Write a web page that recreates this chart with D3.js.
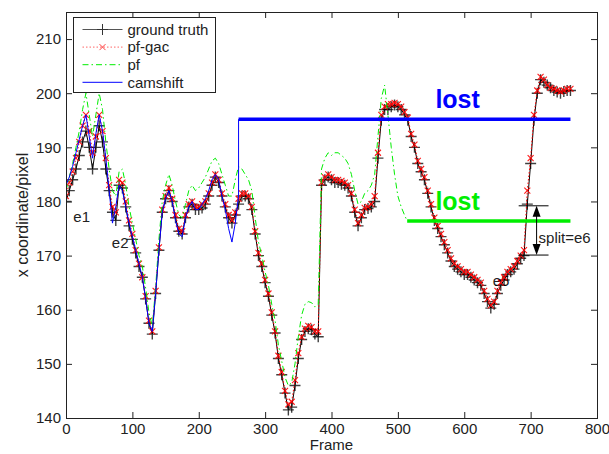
<!DOCTYPE html>
<html>
<head>
<meta charset="utf-8">
<script src="https://cdn.jsdelivr.net/npm/d3@7"></script>
<style>
  body { margin: 0; background: #fff; }
  svg { font-family: "Liberation Sans", Arial, sans-serif; }
</style>
</head>
<body>
<script>
// x coordinate of the tracked target, one value every 5 frames
const frameStep = 5

const groundTruth = [
  180, 182, 184, 186, 188.5, 191, 193, 190, 186, 190, 194, 191, 186, 182, 178, 176.5,
  183, 182.5, 179, 175.5, 173, 170.5, 168, 166, 162, 157.5, 155.5, 163, 171, 178, 180.5, 182,
  180, 177, 174.5, 174, 177, 179, 179.5, 178.5, 178.5, 178.8, 179.5, 181, 183, 184.5, 183.5, 181,
  179, 177, 176, 177.5, 179.5, 181, 181, 180.5, 178.5, 174, 170, 168, 165, 162.5, 159, 155.7,
  151, 148, 144.6, 141.5, 142, 146, 151, 154.5, 156, 156.5, 156.3, 155.5, 155, 183, 184, 184.5,
  184, 183.5, 183.5, 183.2, 183, 182.5, 181, 178, 175.5, 177, 178.5, 178.7, 179, 180, 188, 195,
  197, 197, 197.5, 197.8, 197.5, 197, 196, 195, 192, 190, 187, 185.5, 184, 181.5, 179, 176.5,
  175, 173.5, 172, 170.5, 169, 168, 167.5, 167, 166.5, 166.5, 166, 165.5, 165, 164.5, 163, 161.5,
  160.3, 161, 163, 164.5, 165.5, 166.5, 167, 167.5, 168.5, 169.5, 170, 179.5, 187, 195, 200, 202.5,
  202, 201.5, 201, 200.5, 200.2, 200, 200.3, 200.5, 200.5
]

const pfGac = [
  181, 183.5, 185.5, 188, 191, 194, 196, 193, 189, 192, 196, 193, 188, 183, 179, 178,
  184, 183.5, 180, 176.5, 174, 171, 168.5, 166, 162.5, 158, 156, 163.5, 171.5, 178.5, 181, 182.5,
  180.5, 177.5, 175, 174.5, 177.5, 179.5, 180, 179, 179, 179.5, 180, 181.5, 183.5, 185, 184, 181.5,
  179.5, 177.5, 176.5, 178, 180.5, 181.5, 181.5, 181, 179, 174.5, 170.5, 168.5, 165.5, 163, 159.5, 156,
  151.5, 148.5, 145, 142.5, 143, 147, 152, 155, 156.5, 157, 156.8, 156, 156, 183.5, 184.5, 185,
  184.5, 184, 184, 183.8, 183.5, 183, 181.5, 178.5, 176, 177.5, 178.8, 179, 179.5, 181, 189, 196,
  197.5, 198, 198, 198.2, 198, 197.5, 196.5, 195.5, 192.5, 190.5, 187.5, 186, 184.5, 182, 179.5, 177,
  175.5, 174, 172.5, 171, 169.5, 168.5, 168, 167.5, 167, 167, 166.5, 166, 165.5, 165, 163.5, 162,
  160.8, 161.5, 163.5, 165, 166, 167, 167.5, 168, 169, 170, 171, 182, 188, 196, 200.5, 203,
  202.5, 201.5, 201, 200.8, 200.5, 200.3, 200.5, 200.8, 200.8
]

// pf follows the target until frame 510, then stays lost
const pf = [
  182, 184.5, 187, 190, 193, 197, 200, 196, 192, 196, 200, 197, 191, 186, 182, 181,
  185.5, 186, 183, 179, 176, 173, 170, 168, 164, 159.5, 157, 164, 173, 180, 183, 185,
  183, 180, 177.5, 177, 179.5, 182, 183, 182, 182.5, 183.5, 184.5, 186, 187.5, 188, 187, 185,
  183, 181, 181, 184, 186.5, 186, 185, 184, 182, 177, 172.5, 170, 167, 164.5, 161, 158,
  153.5, 150.5, 147.5, 146, 146.5, 150, 155, 159, 161, 161.5, 161.3, 160.5, 161, 186, 188, 189,
  188.5, 189, 189, 188.5, 188, 187, 185, 182, 179.5, 180, 181.5, 182, 183, 185, 192, 199,
  201.5, 196, 190, 185, 181, 179, 177.5
]
const pfLost = { from: 514, to: 760, value: 176.4 }

// camshift follows the target until frame 260, then jumps away
const camshift = [
  183, 184.5, 186.5, 189, 191.5, 194, 196, 192, 188, 192.5, 196, 193, 188, 182, 176, 179,
  183, 182, 179, 176, 173.5, 171, 168.5, 166, 162, 157.5, 156, 163, 171, 178, 180.5, 182,
  180, 176.5, 174, 173.5, 177, 179, 180, 178.5, 178.5, 179.5, 180.5, 182, 184, 185, 184, 181,
  178.5, 175, 172.5, 176, 181
]
const camLost = { from: 260, to: 760, value: 195.2 }

const xTicks = [0, 100, 200, 300, 400, 500, 600, 700, 800]
const yTicks = [140, 150, 160, 170, 180, 190, 200, 210]
const seriesNames = ['ground truth', 'pf-gac', 'pf', 'camshift']

// error annotations: label, frame, value
const errorLabels = [
  ['e1', 11, 176.2],
  ['e2', 69, 171.4],
  ['e5', 643, 164.4]
]
const split = { frame: 709, top: 179.2, bottom: 170.1, left: 682, right: 727 }

const width = 609
const height = 454
const margin = { top: 12, right: 12, bottom: 36, left: 66 }

const svg = d3.select('body').append('svg')
  .attr('width', width)
  .attr('height', height)

const x = d3.scaleLinear().domain([0, 800]).range([margin.left, width - margin.right])
const y = d3.scaleLinear().domain([140, 215]).range([height - margin.bottom, margin.top])

const pts = arr => arr.map((v, i) => [i * frameStep, v])
const line = d3.line().x(d => x(d[0])).y(d => y(d[1]))

svg.append('clipPath').attr('id', 'plot')
  .append('rect')
    .attr('x', x(0)).attr('y', y(215))
    .attr('width', x(800) - x(0)).attr('height', y(140) - y(215))

// labels of the error frames sit underneath the tracks
svg.selectAll('.elabel')
  .data(errorLabels)
  .enter()
  .append('text')
    .attr('class', 'elabel')
    .attr('x', d => x(d[1]))
    .attr('y', d => y(d[2]))
    .style('font-size', '15px')
    .style('fill', '#222')
    .text(d => d[0])

const plot = svg.append('g').attr('clip-path', 'url(#plot)')

const plusPath = 'M-5.5,0H5.5M0,-5.5V5.5'
const crossPath = 'M-3,-3L3,3M-3,3L3,-3'

// ground truth: black line with + markers
plot.append('path')
  .attr('d', line(pts(groundTruth)))
  .style('fill', 'none')
  .style('stroke', '#000')
  .style('stroke-width', 1)
plot.selectAll('.gt')
  .data(pts(groundTruth))
  .enter()
  .append('path')
    .attr('class', 'gt')
    .attr('transform', d => `translate(${x(d[0])},${y(d[1])})`)
    .attr('d', plusPath)
    .style('stroke', '#000')
    .style('stroke-width', 1.4)
    .style('stroke-opacity', 0.75)

// pf-gac: red dotted line with x markers
plot.append('path')
  .attr('d', line(pts(pfGac)))
  .style('fill', 'none')
  .style('stroke', '#f00')
  .style('stroke-width', 1)
  .style('stroke-dasharray', '1.5,2')
plot.selectAll('.gac')
  .data(pts(pfGac))
  .enter()
  .append('path')
    .attr('class', 'gac')
    .attr('transform', d => `translate(${x(d[0])},${y(d[1])})`)
    .attr('d', crossPath)
    .style('stroke', '#f00')
    .style('stroke-width', 1.1)
    .style('stroke-opacity', 0.9)

// pf: green dash-dot, then the thick "lost" segment
const pfPts = pts(pf).concat([[pfLost.from, pfLost.value]])
plot.append('path')
  .attr('d', line(pfPts))
  .style('fill', 'none')
  .style('stroke', '#00ee00')
  .style('stroke-width', 1)
  .style('stroke-dasharray', '6,3,1.5,3')
plot.append('path')
  .attr('d', line([[pfLost.from, pfLost.value], [pfLost.to, pfLost.value]]))
  .style('stroke', '#00ee00')
  .style('stroke-width', 3.5)

// camshift: blue line, then the thick "lost" segment
const camPts = pts(camshift).concat([[camLost.from, camLost.value]])
plot.append('path')
  .attr('d', line(camPts))
  .style('fill', 'none')
  .style('stroke', '#0000ff')
  .style('stroke-width', 1)
plot.append('path')
  .attr('d', line([[camLost.from, camLost.value], [camLost.to, camLost.value]]))
  .style('stroke', '#0000ff')
  .style('stroke-width', 3.5)

svg.append('text')
  .attr('x', x(590)).attr('y', y(197.2))
  .attr('text-anchor', 'middle')
  .style('font-size', '25px')
  .style('font-weight', 'bold')
  .style('fill', '#0000ff')
  .text('lost')
svg.append('text')
  .attr('x', x(590)).attr('y', y(178.4))
  .attr('text-anchor', 'middle')
  .style('font-size', '25px')
  .style('font-weight', 'bold')
  .style('fill', '#00ee00')
  .text('lost')

// split = e6 marker
const sp = svg.append('g').style('stroke', '#000').style('stroke-width', 1)
sp.append('line')
  .attr('x1', x(split.left)).attr('x2', x(split.right))
  .attr('y1', y(split.top)).attr('y2', y(split.top))
sp.append('line')
  .attr('x1', x(split.left)).attr('x2', x(split.right))
  .attr('y1', y(split.bottom)).attr('y2', y(split.bottom))
sp.append('line')
  .attr('x1', x(split.frame)).attr('x2', x(split.frame))
  .attr('y1', y(split.top) + 6).attr('y2', y(split.bottom) - 6)
const ax = x(split.frame)
sp.append('path')
  .attr('d', `M${ax},${y(split.top)}L${ax - 4},${y(split.top) + 11}L${ax + 4},${y(split.top) + 11}Z`)
  .style('fill', '#000').style('stroke', 'none')
sp.append('path')
  .attr('d', `M${ax},${y(split.bottom)}L${ax - 4},${y(split.bottom) - 11}L${ax + 4},${y(split.bottom) - 11}Z`)
  .style('fill', '#000').style('stroke', 'none')
svg.append('text')
  .attr('x', ax + 2).attr('y', y(172.3))
  .style('font-size', '15px')
  .style('fill', '#222')
  .text('split=e6')

// axes with inward ticks on all four sides
svg.append('g')
  .attr('transform', `translate(0,${y(140)})`)
  .call(d3.axisBottom(x).tickValues(xTicks).tickSize(-6).tickPadding(5))
svg.append('g')
  .attr('transform', `translate(${x(0)},0)`)
  .call(d3.axisLeft(y).tickValues(yTicks).tickSize(-6).tickPadding(5))
svg.append('g')
  .attr('transform', `translate(0,${y(215)})`)
  .call(d3.axisTop(x).tickValues(xTicks).tickSize(-6).tickFormat(''))
svg.append('g')
  .attr('transform', `translate(${x(800)},0)`)
  .call(d3.axisRight(y).tickValues(yTicks).tickSize(-6).tickFormat(''))
svg.selectAll('.domain').remove()
svg.selectAll('.tick line').style('stroke', '#222')
svg.selectAll('.tick text')
  .style('font-size', '15px')
  .style('font-family', '"Liberation Sans", Arial, sans-serif')
  .style('fill', '#222')

svg.append('rect')
  .attr('x', x(0) + 0.5).attr('y', y(215) + 0.5)
  .attr('width', x(800) - x(0)).attr('height', y(140) - y(215))
  .style('fill', 'none')
  .style('stroke', '#222')

svg.append('text')
  .attr('x', (x(0) + x(800)) / 2).attr('y', 450)
  .attr('text-anchor', 'middle')
  .style('font-size', '15px')
  .style('fill', '#222')
  .text('Frame')
svg.append('text')
  .attr('transform', `translate(28,${(y(140) + y(215)) / 2}) rotate(-90)`)
  .attr('text-anchor', 'middle')
  .style('font-size', '16px')
  .style('fill', '#222')
  .text('x coordinate/pixel')

// legend
const legend = svg.append('g').attr('transform', 'translate(73.5,17.5)')
legend.append('rect')
  .attr('width', 142).attr('height', 75)
  .style('fill', '#fff')
  .style('stroke', '#222')
const rows = legend.selectAll('.row')
  .data(seriesNames)
  .enter()
  .append('g')
    .attr('transform', (d, i) => `translate(0,${12 + i * 17.6})`)
const lineStyles = [
  { color: '#555', dash: null },
  { color: '#f66', dash: '1.5,2' },
  { color: '#00ee00', dash: '6,3,1.5,3' },
  { color: '#0000ff', dash: null }
]
rows.append('line')
  .attr('x1', 9).attr('x2', 49)
  .style('stroke', (d, i) => lineStyles[i].color)
  .style('stroke-dasharray', (d, i) => lineStyles[i].dash)
rows.filter((d, i) => i === 0).append('path')
  .attr('transform', 'translate(29,0)')
  .attr('d', plusPath)
  .style('stroke', '#333')
rows.filter((d, i) => i === 1).append('path')
  .attr('transform', 'translate(29,0)')
  .attr('d', crossPath)
  .style('stroke', '#f44')
rows.append('text')
  .attr('x', 54)
  .attr('dy', '0.35em')
  .style('font-size', '15px')
  .style('fill', '#222')
  .text(d => d)
</script>
</body>
</html>
